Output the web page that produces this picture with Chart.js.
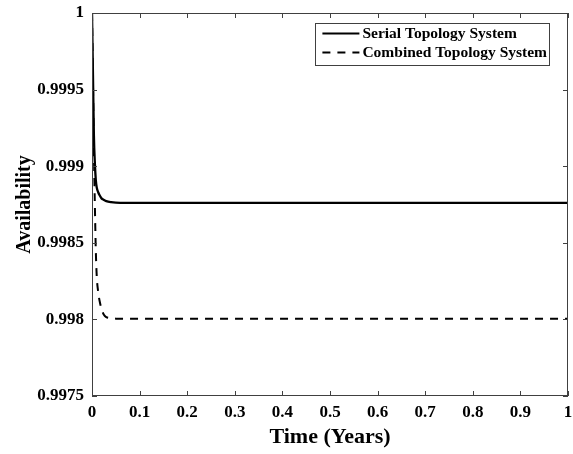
<!DOCTYPE html>
<html>
<head>
<meta charset="utf-8">
<script src="https://cdn.jsdelivr.net/npm/chart.js@4.4.1/dist/chart.umd.min.js"></script>
<style>
  html,body{margin:0;padding:0;background:#fff;}
</style>
</head>
<body>
<canvas id="chart" width="573" height="454"></canvas>
<script>
//----- data -----//
const timeYears     = [0, 0.002, 0.004, 0.006, 0.008, 0.01, 0.013, 0.016, 0.02, 0.025, 0.03, 0.04, 0.05, 0.1, 0.2, 0.3, 0.4, 0.5, 0.6, 0.7, 0.8, 0.9, 1];
const serialAvail   = [1, 0.9996, 0.9992, 0.99902, 0.99891, 0.99886, 0.99883, 0.99881, 0.99879, 0.99878, 0.998772, 0.998765, 0.998762, 0.99876, 0.99876, 0.99876, 0.99876, 0.99876, 0.99876, 0.99876, 0.99876, 0.99876, 0.99876];
const combinedAvail = [1, 0.99955, 0.9991, 0.99875, 0.99845, 0.99828, 0.99818, 0.99812, 0.99807, 0.99803, 0.998015, 0.998008, 0.998005, 0.998005, 0.998005, 0.998005, 0.998005, 0.998005, 0.998005, 0.998005, 0.998005, 0.998005, 0.998005];
const seriesNames   = ['Serial Topology System', 'Combined Topology System'];

const xTickValues = [0, 0.1, 0.2, 0.3, 0.4, 0.5, 0.6, 0.7, 0.8, 0.9, 1];
const xTickLabels = ['0', '0.1', '0.2', '0.3', '0.4', '0.5', '0.6', '0.7', '0.8', '0.9', '1'];
const yTickValues = [0.9975, 0.998, 0.9985, 0.999, 0.9995, 1];
const yTickLabels = ['0.9975', '0.998', '0.9985', '0.999', '0.9995', '1'];

const serif = '"Liberation Serif", "Times New Roman", serif';
const axisColor = '#404040';

//----- build points -----//
function toPoints(values){
  let pts = [];
  for(let i=0;i<timeYears.length;i++){
    pts.push({x: timeYears[i], y: values[i]});
  }
  return pts;
}

//----- box around plot with inward ticks -----//
const framePlugin = {
  id: 'frame',
  afterDatasetsDraw(chart){
    const ctx = chart.ctx;
    const a = chart.chartArea;
    const xs = chart.scales.x, ys = chart.scales.y;
    const len = 5;
    ctx.save();
    ctx.strokeStyle = axisColor;
    ctx.lineWidth = 1;
    ctx.strokeRect(a.left + 0.5, a.top + 0.5, a.right - a.left - 1, a.bottom - a.top - 1);
    ctx.beginPath();
    xTickValues.forEach(v => {
      const px = Math.round(xs.getPixelForValue(v)) + 0.5;
      ctx.moveTo(px, a.bottom); ctx.lineTo(px, a.bottom - len);
      ctx.moveTo(px, a.top);    ctx.lineTo(px, a.top + len);
    });
    yTickValues.forEach(v => {
      const py = Math.round(ys.getPixelForValue(v)) + 0.5;
      ctx.moveTo(a.left, py);  ctx.lineTo(a.left + len, py);
      ctx.moveTo(a.right, py); ctx.lineTo(a.right - len, py);
    });
    ctx.stroke();
    ctx.restore();
  }
};

//----- legend drawn inside the plot, top right -----//
const boxLegendPlugin = {
  id: 'boxLegend',
  afterDraw(chart){
    const ctx = chart.ctx;
    const a = chart.chartArea;
    ctx.save();
    ctx.font = 'bold 15.5px ' + serif;
    let maxW = 0;
    chart.data.datasets.forEach(ds => { maxW = Math.max(maxW, ctx.measureText(ds.label).width); });
    const sampleLen = 37;
    const w = 7 + sampleLen + 3 + maxW + 2;
    const h = 42;
    const right = a.right - 19;
    const top = a.top + 10;
    const left = right - w;
    ctx.fillStyle = '#fff';
    ctx.fillRect(left, top, w, h);
    ctx.strokeStyle = axisColor;
    ctx.lineWidth = 1;
    ctx.strokeRect(Math.round(left) + 0.5, top + 0.5, Math.round(w), h);
    chart.data.datasets.forEach((ds, i) => {
      const cy = top + 10.5 + i * 19;
      ctx.beginPath();
      ctx.setLineDash(ds.borderDash || []);
      ctx.strokeStyle = ds.borderColor;
      ctx.lineWidth = 2;
      ctx.moveTo(left + 7, cy);
      ctx.lineTo(left + 7 + sampleLen, cy);
      ctx.stroke();
      ctx.setLineDash([]);
      ctx.fillStyle = '#000';
      ctx.textBaseline = 'middle';
      ctx.textAlign = 'left';
      ctx.fillText(ds.label, left + 7 + sampleLen + 3, cy);
    });
    ctx.restore();
  }
};

// invisible tick marks give the label offset without extra layout padding
const hiddenGrid = {display: true, drawOnChartArea: false, drawTicks: true, color: 'rgba(0,0,0,0)'};

new Chart(document.getElementById('chart'), {
  type: 'line',
  data: {
    datasets: [
      {
        label: seriesNames[0],
        data: toPoints(serialAvail),
        borderColor: '#000',
        borderWidth: 2.3,
        pointRadius: 0,
        fill: false,
        cubicInterpolationMode: 'monotone'
      },
      {
        label: seriesNames[1],
        data: toPoints(combinedAvail),
        borderColor: '#000',
        borderWidth: 2,
        borderDash: [8, 7],
        pointRadius: 0,
        fill: false,
        cubicInterpolationMode: 'monotone'
      }
    ]
  },
  options: {
    responsive: false,
    animation: false,
    devicePixelRatio: 1,
    layout: {padding: {left: 0, top: 13, right: 5, bottom: 0}},
    plugins: {legend: {display: false}, tooltip: {enabled: false}},
    scales: {
      x: {
        type: 'linear',
        min: 0,
        max: 1,
        afterBuildTicks: s => { s.ticks = xTickValues.map(v => ({value: v})); },
        afterFit: s => { s.height = 58; },
        grid: Object.assign({tickLength: 6}, hiddenGrid),
        border: {display: false},
        ticks: {
          color: '#000',
          padding: 0,
          maxRotation: 0,
          autoSkip: false,
          font: {family: serif, size: 17, weight: 'bold'},
          callback: (v, i) => xTickLabels[i]
        },
        title: {
          display: true,
          text: 'Time (Years)',
          color: '#000',
          font: {family: serif, size: 22, weight: 'bold'},
          padding: {bottom: 3}
        }
      },
      y: {
        type: 'linear',
        min: 0.9975,
        max: 1,
        afterBuildTicks: s => { s.ticks = yTickValues.map(v => ({value: v})); },
        afterFit: s => { s.width = 92; },
        grid: Object.assign({tickLength: 8}, hiddenGrid),
        border: {display: false},
        ticks: {
          color: '#000',
          padding: 0,
          autoSkip: false,
          font: {family: serif, size: 17, weight: 'bold'},
          callback: (v, i) => yTickLabels[i]
        },
        title: {
          display: true,
          text: 'Availability',
          color: '#000',
          font: {family: serif, size: 20, weight: 'bold'},
          padding: {top: 13}
        }
      }
    }
  },
  plugins: [framePlugin, boxLegendPlugin]
});
</script>
</body>
</html>
